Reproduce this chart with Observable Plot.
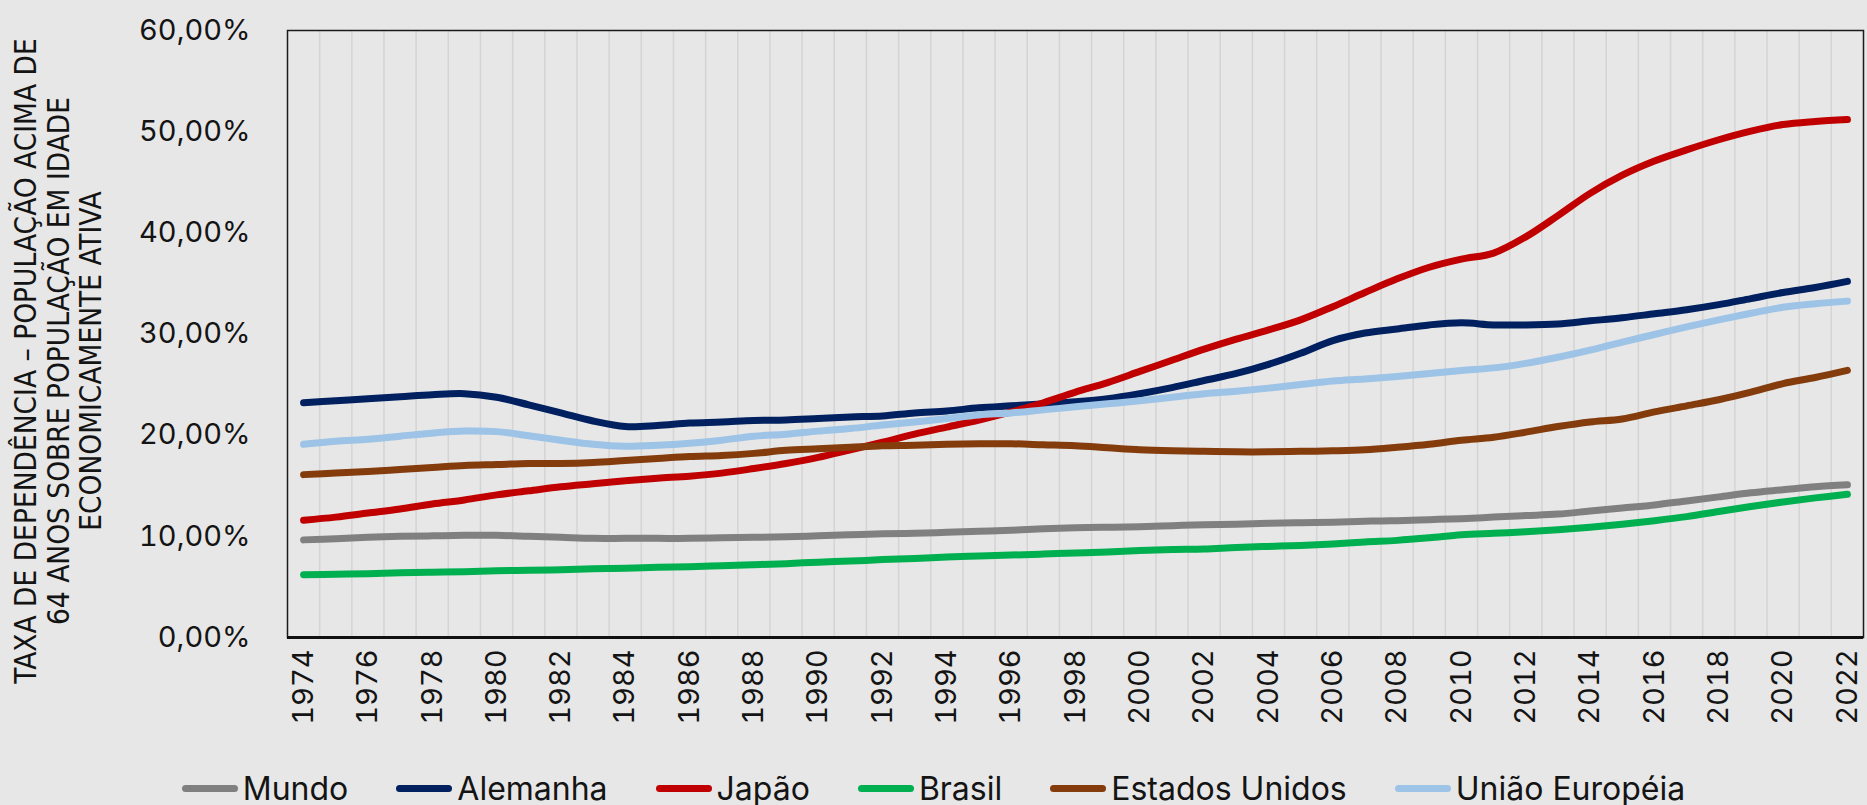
<!DOCTYPE html>
<html>
<head>
<meta charset="utf-8">
<script src="https://cdn.jsdelivr.net/npm/d3@7"></script>
<script src="https://cdn.jsdelivr.net/npm/@observablehq/plot@0.6"></script>
<style>
  html, body { margin: 0; padding: 0; background: #e7e7e7; width: 1867px; height: 805px; overflow: hidden; }
  #chart svg { display: block; }
  #legend { display: flex; justify-content: center; align-items: center; height: 44px; gap: 48px;
            font-family: Inter, "Open Sans", sans-serif; font-size: 32px; color: #141414; }
  .item { display: flex; align-items: center; }
  .sw { width: 56px; height: 7px; border-radius: 3.5px; margin-right: 5px; }
</style>
</head>
<body>
<div id="chart"></div>
<div id="legend"></div>
<script>
const years = [1974,1975,1976,1977,1978,1979,1980,1981,1982,1983,1984,1985,1986,1987,1988,1989,1990,1991,1992,1993,1994,1995,1996,1997,1998,1999,2000,2001,2002,2003,2004,2005,2006,2007,2008,2009,2010,2011,2012,2013,2014,2015,2016,2017,2018,2019,2020,2021,2022];

const mundo = [9.65,9.75,9.9,10.0,10.05,10.1,10.1,10.0,9.9,9.8,9.8,9.8,9.8,9.85,9.9,9.95,10.05,10.15,10.25,10.3,10.4,10.5,10.6,10.75,10.85,10.9,10.95,11.05,11.15,11.2,11.3,11.35,11.4,11.5,11.55,11.65,11.75,11.9,12.05,12.2,12.5,12.8,13.1,13.5,13.9,14.3,14.6,14.9,15.1];
const alemanha = [23.2,23.4,23.6,23.8,24.0,24.1,23.75,23.0,22.2,21.4,20.85,20.95,21.2,21.3,21.45,21.5,21.65,21.8,21.9,22.2,22.4,22.7,22.9,23.1,23.3,23.6,24.1,24.7,25.4,26.1,27.0,28.1,29.35,30.1,30.5,30.9,31.1,30.9,30.9,31.0,31.3,31.6,32.0,32.4,32.9,33.5,34.1,34.6,35.2];
const japao = [11.6,11.9,12.3,12.7,13.2,13.6,14.1,14.5,14.9,15.2,15.5,15.75,15.95,16.25,16.7,17.2,17.8,18.55,19.3,20.1,20.8,21.5,22.3,23.2,24.25,25.2,26.3,27.4,28.5,29.5,30.4,31.4,32.7,34.1,35.45,36.6,37.4,38.0,39.6,41.7,43.9,45.7,47.1,48.2,49.2,50.05,50.7,51.0,51.2];
const brasil = [6.2,6.25,6.3,6.4,6.45,6.5,6.6,6.65,6.7,6.8,6.85,6.95,7.0,7.1,7.2,7.3,7.45,7.55,7.7,7.8,7.95,8.05,8.15,8.25,8.35,8.45,8.6,8.7,8.75,8.9,9.0,9.1,9.25,9.45,9.6,9.85,10.15,10.3,10.45,10.65,10.9,11.2,11.55,11.95,12.45,12.95,13.4,13.8,14.15];
const estadosUnidos = [16.1,16.25,16.4,16.6,16.8,17.0,17.1,17.2,17.2,17.3,17.5,17.7,17.9,18.0,18.2,18.5,18.65,18.8,18.95,19.0,19.1,19.15,19.15,19.05,18.95,18.75,18.55,18.45,18.4,18.35,18.35,18.4,18.45,18.55,18.8,19.1,19.5,19.8,20.3,20.85,21.3,21.6,22.3,22.9,23.5,24.25,25.1,25.7,26.4];
const uniaoEuropeia = [19.1,19.4,19.6,19.9,20.2,20.4,20.35,19.95,19.5,19.1,18.9,19.0,19.2,19.5,19.9,20.1,20.4,20.65,21.0,21.3,21.65,22.0,22.2,22.5,22.8,23.1,23.4,23.75,24.1,24.35,24.65,25.0,25.35,25.55,25.8,26.1,26.4,26.65,27.1,27.7,28.4,29.2,29.95,30.7,31.4,32.05,32.65,33.0,33.25];

const seriesNames = ["Mundo", "Alemanha", "Japão", "Brasil", "Estados Unidos", "União Européia"];
const seriesColors = ["#808080", "#002060", "#C00000", "#00B050", "#843C0C", "#9DC3E6"];
const seriesValues = [mundo, alemanha, japao, brasil, estadosUnidos, uniaoEuropeia];

const yTicks = [0, 10, 20, 30, 40, 50, 60];
const xTicks = [1974,1976,1978,1980,1982,1984,1986,1988,1990,1992,1994,1996,1998,2000,2002,2004,2006,2008,2010,2012,2014,2016,2018,2020,2022];
const yTitle = "TAXA DE DEPENDÊNCIA – POPULAÇÃO ACIMA DE\n64 ANOS SOBRE POPULAÇÃO EM IDADE\nECONOMICAMENTE ATIVA";

const rows = seriesNames.flatMap((name, i) =>
  years.map((year, j) => ({series: name, year, value: seriesValues[i][j]})));

const gridPositions = years.slice(0, -1).map(y => ({year: y}));

const fmt = d => d.toFixed(2).replace(".", ",") + "%";

const chart = Plot.plot({
  width: 1867,
  height: 766,
  marginLeft: 287,
  marginRight: 4,
  marginTop: 30,
  marginBottom: 129,
  style: {background: "transparent", fontFamily: "Inter, 'Open Sans', sans-serif", fontSize: "29px", color: "#141414", overflow: "visible"},
  x: {type: "linear", domain: [1973.5, 2022.5], axis: null},
  y: {domain: [0, 60], axis: null},
  color: {domain: seriesNames, range: seriesColors},
  marks: [
    Plot.ruleX(gridPositions, {x: d => d.year + 0.5, stroke: "#d4d4d4", strokeWidth: 1.5}),
    Plot.axisY(yTicks, {tickSize: 0, tickPadding: 37, tickFormat: fmt, label: null, fontSize: 29}),
    Plot.axisX(xTicks, {tickSize: 0, tickPadding: 12, tickRotate: -90, tickFormat: d => String(d), label: null, fontSize: 29}),
    Plot.line(rows, {x: "year", y: "value", z: "series", stroke: "series", strokeWidth: 7, curve: "catmull-rom", strokeLinecap: "round", strokeLinejoin: "round"}),
    Plot.frame({stroke: "#1a1a1a", strokeWidth: 1.5}),
    Plot.ruleY([0], {stroke: "#111", strokeWidth: 3}),
    Plot.text([yTitle], {frameAnchor: "left", textAnchor: "middle", lineAnchor: "middle", dx: -229, dy: 27, rotate: -90, fontSize: 29.5, lineHeight: 1.1,
      fontFamily: "'DejaVu Sans Condensed', 'Liberation Sans Narrow', 'DejaVu Sans', sans-serif", fill: "#141414"})
  ]
});
document.getElementById("chart").append(chart);

const legend = document.getElementById("legend");
seriesNames.forEach((name, i) => {
  const item = document.createElement("div");
  item.className = "item";
  const sw = document.createElement("span");
  sw.className = "sw";
  sw.style.background = seriesColors[i];
  const label = document.createElement("span");
  label.textContent = name;
  item.append(sw, label);
  legend.append(item);
});
</script>
</body>
</html>
